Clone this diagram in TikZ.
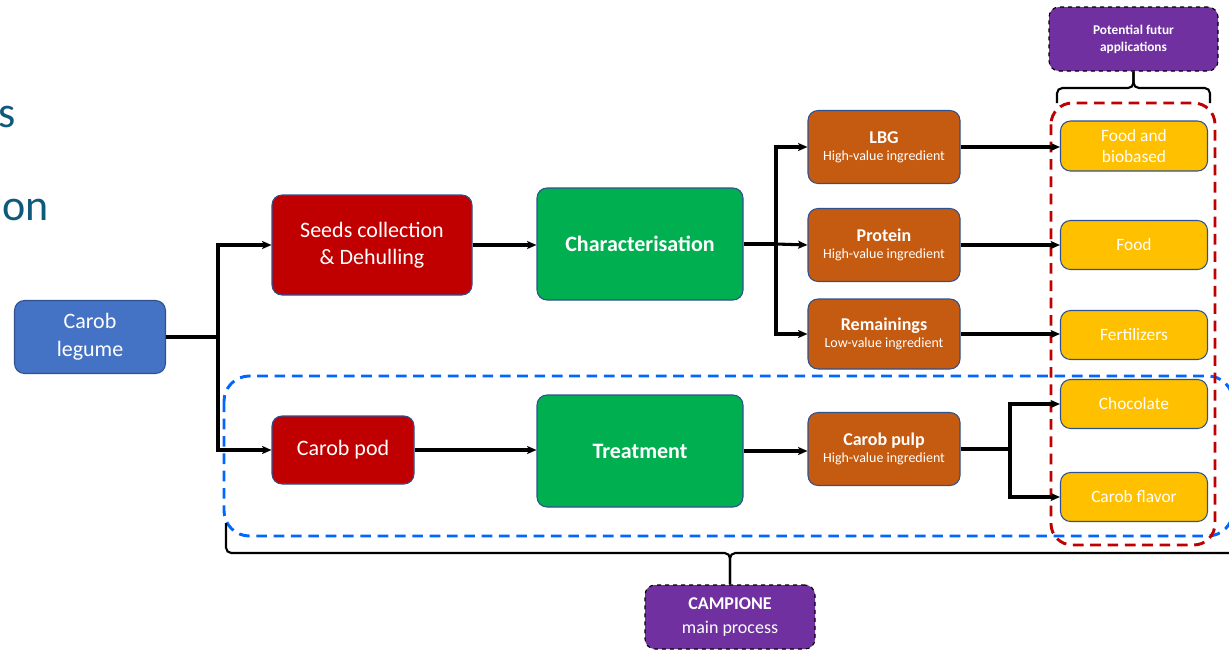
\documentclass[tikz,border=0pt]{standalone}
\usepackage{fontspec}
\setmainfont{Carlito}
\usetikzlibrary{arrows.meta}
\definecolor{bluebox}{RGB}{68,114,196}
\definecolor{redbox}{RGB}{192,0,0}
\definecolor{greenbox}{RGB}{0,176,80}
\definecolor{orangebox}{RGB}{197,90,17}
\definecolor{yellowbox}{RGB}{255,192,0}
\definecolor{purplebox}{RGB}{112,48,160}
\definecolor{boxline}{RGB}{47,82,143}
\definecolor{dashblue}{RGB}{0,102,255}
\definecolor{dashred}{RGB}{192,0,0}
\definecolor{titletext}{RGB}{14,90,122}
\tikzset{
  box/.style={rounded corners=7.5pt, draw=boxline, line width=0.8pt, text=white, align=center, inner sep=0pt},
  legumebox/.style={box, fill=bluebox, minimum width=113.25pt, minimum height=54.75pt, font=\fontsize{16.5}{21}\selectfont},
  redstep/.style={box, fill=redbox, font=\fontsize{16.5}{20}\selectfont},
  greenstep/.style={box, fill=greenbox, minimum width=154.5pt, minimum height=84pt, font=\fontsize{16.5}{20}\selectfont\bfseries},
  orangestep/.style={box, fill=orangebox, minimum width=114pt, minimum height=54.75pt},
  yellowstep/.style={box, fill=yellowbox, minimum width=110.25pt, minimum height=36.75pt, font=\fontsize{13}{16}\selectfont},
  purplestep/.style={rounded corners=7.5pt, draw=black, dashed, line width=0.8pt, fill=purplebox, text=white, align=center, inner sep=0pt},
  conn/.style={line width=2.3pt, -{Stealth[length=7pt,width=6pt,inset=1.5pt]}},
  plainconn/.style={line width=2.3pt},
  brace/.style={line width=1.6pt, rounded corners=4pt},
  ttl/.style={text=titletext, font=\fontsize{33}{36}\selectfont, inner sep=0pt},
}
\begin{document}
\begin{tikzpicture}[x=0.75pt, y=-0.75pt]
\useasboundingbox (0,0) rectangle (1229,650);
\fill[white] (0,0) rectangle (1229,650);

% partial slide title text at left edge
\node[ttl, anchor=base east] (t1) at (16,127) {s};
\node[ttl, anchor=base east] (t2) at (49,220) {ion};

% dashed grouping boxes
\draw[dashblue, line width=2.2pt, dash pattern=on 8pt off 5pt, rounded corners=19pt] (224,376) rectangle (1233,536);
\draw[dashred, line width=2.2pt, dash pattern=on 8pt off 5pt, rounded corners=16pt] (1051,103) rectangle (1215,545);

% nodes
\node[legumebox] (legume) at (90,337) {Carob\\legume};
\node[redstep, minimum width=150pt, minimum height=75pt] (seeds) at (372,245) {Seeds collection\\\& Dehulling};
\node[greenstep] (char) at (640,244) {Characterisation};
\node[orangestep] (lbg) at (884,147) {{\fontsize{13.5}{14}\selectfont\bfseries LBG}\\[1pt]{\fontsize{10.5}{12}\selectfont High-value ingredient}};
\node[orangestep] (prot) at (884,245) {{\fontsize{13.5}{14}\selectfont\bfseries Protein}\\[1pt]{\fontsize{10.5}{12}\selectfont High-value ingredient}};
\node[orangestep, minimum height=52.5pt] (rem) at (884,334) {{\fontsize{13.5}{14}\selectfont\bfseries Remainings}\\[1pt]{\fontsize{10.5}{12}\selectfont Low-value ingredient}};
\node[redstep, minimum width=106.5pt, minimum height=51pt] (pod) at (343,450) {Carob pod};
\node[greenstep] (treat) at (640,451) {Treatment};
\node[orangestep] (pulp) at (884,449) {{\fontsize{13.5}{14}\selectfont\bfseries Carob pulp}\\[1pt]{\fontsize{10.5}{12}\selectfont High-value ingredient}};

\node[yellowstep, minimum height=37.5pt] (fb) at (1134,146) {Food and\\biobased};
\node[yellowstep] (food) at (1134,245) {Food};
\node[yellowstep] (fert) at (1134,335) {Fertilizers};
\node[yellowstep] (choc) at (1134,404) {Chocolate};
\node[yellowstep] (flav) at (1134,497) {Carob flavor};

\node[purplestep, minimum width=126.75pt, minimum height=48pt, font=\fontsize{10}{12.75}\selectfont\bfseries] (pot) at (1133.5,39) {Potential futur\\applications};
\node[purplestep, minimum width=127.5pt, minimum height=48pt, font=\fontsize{13.5}{18}\selectfont] (camp) at (730,617) {\textbf{CAMPIONE}\\main process};

% junction coordinates
\coordinate (j1) at (218,337);
\coordinate (j2) at (776,244);
\coordinate (j3) at (1010,449);

% connectors
\draw[plainconn] (legume.east) -- (j1);
\draw[conn] (j1) |- (seeds.west);
\draw[conn] (j1) |- (pod.west);
\draw[conn] (seeds.east) -- (seeds.east -| char.west);
\draw[plainconn] (char.east) -- (j2);
\draw[conn] (j2) |- (lbg.west);
\draw[conn] (j2) -- (prot.west);
\draw[conn] (j2) |- (rem.west);
\draw[conn] (lbg.east) -- (lbg.east -| fb.west);
\draw[conn] (prot.east) -- (food.west);
\draw[conn] (rem.east) -- (rem.east -| fert.west);
\draw[conn] (pod.east) -- (pod.east -| treat.west);
\draw[conn] (treat.east) -- (treat.east -| pulp.west);
\draw[plainconn] (pulp.east) -- (j3);
\draw[conn] (j3) |- (choc.west);
\draw[conn] (j3) |- (flav.west);

% braces
\coordinate (tbl) at (1057,103);
\coordinate (tbr) at (1210,103);
\coordinate (tbm) at (1133.5,88);
\draw[brace] (tbl) |- (tbm) -- (pot.south);
\draw[brace] (tbr) |- (tbm) -- (pot.south);
\coordinate (bbl) at (226,523);
\coordinate (bbr) at (1235,523);
\coordinate (bbm) at (730,553);
\draw[brace] (bbl) |- (bbm) -- (bbm |- camp.north);
\draw[brace] (bbr) |- (bbm) -- (bbm |- camp.north);
\end{tikzpicture}
\end{document}
